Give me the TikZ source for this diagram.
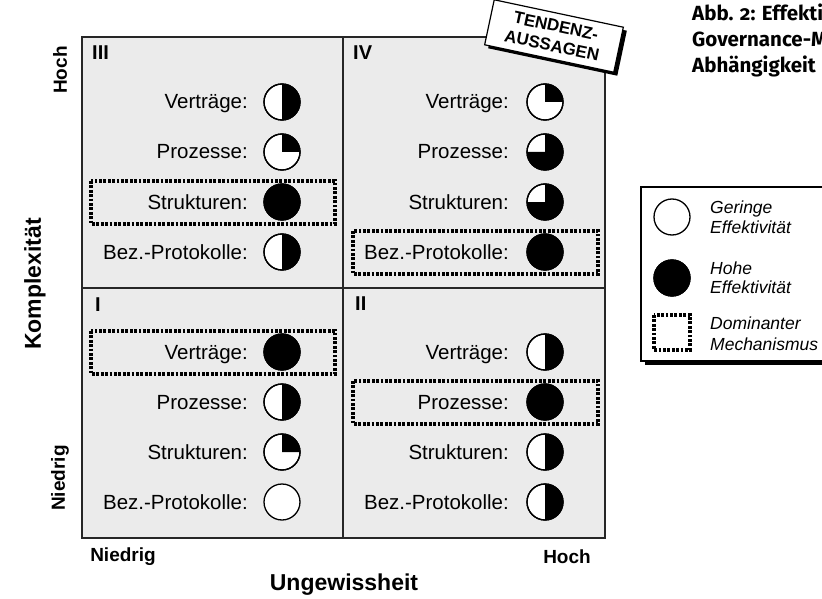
\documentclass[tikz,border=0pt]{standalone}
\usepackage{fontspec}
\setmainfont{Liberation Sans}
\newfontfamily\titlefont{Fira Sans}[Numbers=OldStyle]
\usetikzlibrary{shadows}
\definecolor{quadgrey}{RGB}{235,235,235}
\tikzset{
  quad/.style={fill=quadgrey, draw=black!85, line width=1.3pt},
  lbl/.style={anchor=base east, inner sep=0pt, font=\fontsize{20.5}{24}\selectfont},
  num/.style={anchor=base west, inner sep=0pt, font=\bfseries\fontsize{20}{24}\selectfont},
  axis/.style={inner sep=0pt, font=\bfseries\fontsize{19}{22}\selectfont},
  axisbig/.style={inner sep=0pt, font=\bfseries\fontsize{23}{26}\selectfont},
  pienode/.style={circle, draw=black, line width=1.3pt, fill=white, minimum size=36pt, inner sep=0pt},
  domin/.style={draw=black, line width=3.2pt, dash pattern=on 2.8pt off 1.6pt},
  legtext/.style={anchor=base west, inner sep=0pt, font=\itshape\fontsize{17.5}{20}\selectfont},
  titletext/.style={anchor=base west, inner sep=0pt, font=\titlefont\bfseries\fontsize{20.5}{26}\selectfont},
  stampbox/.style={draw=black, line width=1.2pt, fill=white, minimum width=132pt, minimum height=46pt,
    align=center, inner sep=0pt, font=\bfseries\fontsize{17}{20}\selectfont,
    drop shadow={shadow xshift=3.5pt, shadow yshift=-3.5pt, fill=black, opacity=1}}
}
% #1 name, #2 x, #3 y, #4 end angle of black sector (-90 = none, 270 = full)
\newcommand\mypie[4]{%
  \node[pienode] (#1) at (#2,#3) {};
  \ifnum#4>-90
    \fill[black] (#1.center) -- ++(0,-18) arc[start angle=-90, end angle=#4, radius=18] -- cycle;
    \draw[line width=1.3pt] (#1.center) circle[radius=18];
  \fi
}
\begin{document}
\begin{tikzpicture}[x=1pt,y=-1pt]
\useasboundingbox (0,0) rectangle (822,599);
\fill[white] (0,0) rectangle (822,599);

% quadrants
\draw[quad] (82,37) rectangle (343,288);
\draw[quad] (343,37) rectangle (605,288);
\draw[quad] (82,288) rectangle (343,538);
\draw[quad] (343,288) rectangle (605,538);

% numerals
\node[num] (nIII) at (92,60) {III};
\node[num] (nIV) at (353,60) {IV};
\node[num] (nI) at (95,311) {I};
\node[num] (nII) at (355,310) {II};

% dominant boxes
\draw[domin] (91,181) rectangle (335,224);
\draw[domin] (353,231) rectangle (598,274);
\draw[domin] (91,331) rectangle (335,374);
\draw[domin] (353,381) rectangle (598,424);

% quadrant III
\node[lbl] (t3a) at (248,109) {Verträge:};
\node[lbl] (t3b) at (248,159) {Prozesse:};
\node[lbl] (t3c) at (248,209) {Strukturen:};
\node[lbl] (t3d) at (248,259) {Bez.-Protokolle:};
\mypie{p3a}{282}{102}{90}
\mypie{p3b}{282}{152}{0}
\mypie{p3c}{282}{202}{270}
\mypie{p3d}{282}{252}{90}

% quadrant IV
\node[lbl] (t4a) at (509,109) {Verträge:};
\node[lbl] (t4b) at (509,159) {Prozesse:};
\node[lbl] (t4c) at (509,209) {Strukturen:};
\node[lbl] (t4d) at (509,259) {Bez.-Protokolle:};
\mypie{p4a}{545}{102}{0}
\mypie{p4b}{545}{152}{180}
\mypie{p4c}{545}{202}{180}
\mypie{p4d}{545}{252}{270}

% quadrant I
\node[lbl] (t1a) at (248,359) {Verträge:};
\node[lbl] (t1b) at (248,409) {Prozesse:};
\node[lbl] (t1c) at (248,459) {Strukturen:};
\node[lbl] (t1d) at (248,509) {Bez.-Protokolle:};
\mypie{p1a}{282}{352}{270}
\mypie{p1b}{282}{402}{90}
\mypie{p1c}{282}{452}{0}
\mypie{p1d}{282}{502}{-90}

% quadrant II
\node[lbl] (t2a) at (509,359) {Verträge:};
\node[lbl] (t2b) at (509,409) {Prozesse:};
\node[lbl] (t2c) at (509,459) {Strukturen:};
\node[lbl] (t2d) at (509,509) {Bez.-Protokolle:};
\mypie{p2a}{545}{352}{90}
\mypie{p2b}{545}{402}{270}
\mypie{p2c}{545}{452}{90}
\mypie{p2d}{545}{502}{90}

% axes
\node[axis, rotate=90] (yhoch) at (60,70) {Hoch};
\node[axis, rotate=90] (yniedrig) at (60,478) {Niedrig};
\node[axisbig, rotate=90] (ylabel) at (35,284) {Komplexität};
\node[axis] (xniedrig) at (123,557) {Niedrig};
\node[axis] (xhoch) at (567,557) {Hoch};
\node[axisbig] (xlabel) at (344,585) {Ungewissheit};

% stamp
\node[stampbox, rotate=-12] (stamp) at (554,36) {TENDENZ-\\AUSSAGEN};

% legend
\fill[black] (645,191) rectangle (874,365);
\draw[fill=white, line width=1.2pt] (641,187) rectangle (870,361);
\mypie{lg1}{672}{217}{-90}
\mypie{lg2}{672}{278}{270}
\draw[domin] (654,315) rectangle (690,350);
\node[legtext] (lt1) at (710,213) {Geringe};
\node[legtext] (lt2) at (710,233) {Effektivität};
\node[legtext] (lt3) at (710,274) {Hohe};
\node[legtext] (lt4) at (710,293) {Effektivität};
\node[legtext] (lt5) at (710,329) {Dominanter};
\node[legtext] (lt6) at (710,350) {Mechanismus};

% title
\node[titletext] (ti1) at (692,21) {Abb. 2: Effekti};
\node[titletext] (ti2) at (692,47) {Governance-M};
\node[titletext] (ti3) at (692,73) {Abhängigkeit};
\end{tikzpicture}
\end{document}
